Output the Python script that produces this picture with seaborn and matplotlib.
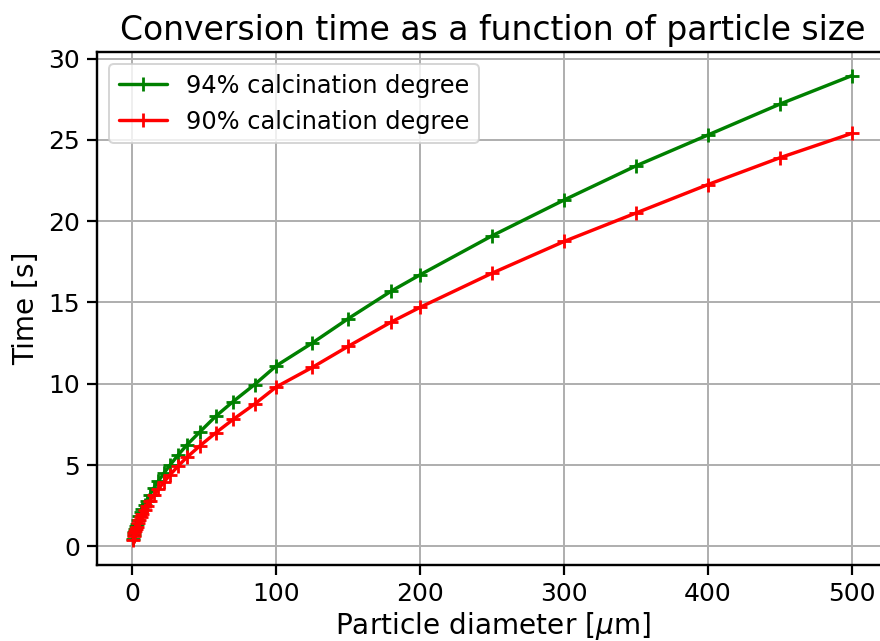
import matplotlib
matplotlib.use("Agg")
import matplotlib.pyplot as plt
import seaborn as sns
import pandas as pd

diameter = [0.5, 1, 1.5, 2, 2.5, 3, 4, 5, 6, 7, 8.5, 10, 12, 15, 18, 22, 26, 32, 38,
            47, 58, 70, 85, 100, 125, 150, 180, 200, 250, 300, 350, 400, 450, 500]
time_94 = [0.45, 0.71, 0.91, 1.08, 1.23, 1.37, 1.63, 1.86, 2.08, 2.27, 2.55, 2.81, 3.14,
           3.58, 3.99, 4.50, 4.97, 5.63, 6.24, 7.04, 8.0, 8.9, 9.95, 11.1, 12.5, 14.0,
           15.7, 16.7, 19.1, 21.3, 23.4, 25.3, 27.2, 28.95]
time_90 = [0.36, 0.62, 0.80, 0.95, 1.08, 1.20, 1.43, 1.63, 1.83, 2.0, 2.24, 2.47, 2.76,
           3.15, 3.5, 3.95, 4.37, 4.95, 5.48, 6.18, 6.98, 7.8, 8.75, 9.8, 11.0, 12.3,
           13.8, 14.7, 16.8, 18.75, 20.5, 22.25, 23.9, 25.4]
labels = ["94% calcination degree", "90% calcination degree"]
colors = ["green", "red"]

sns.set_style("ticks")
plt.rcParams['font.family'] = ['DejaVu Sans']
plt.rcParams['text.color'] = 'black'
plt.rcParams['axes.labelcolor'] = 'black'
plt.rcParams['xtick.color'] = 'black'
plt.rcParams['ytick.color'] = 'black'

fig = plt.figure(figsize=(880 / 144, 641 / 144), dpi=144)
ax = fig.add_axes([97 / 880, 1 - 565 / 641, 791 / 880, 513 / 641])

for series, lab, col in zip([time_94, time_90], labels, colors):
    df = pd.DataFrame({"d": diameter, "t": series})
    sns.lineplot(data=df, x="d", y="t", color=col, label=lab,
                 marker="+", markersize=7, markeredgewidth=1.4,
                 markeredgecolor=col, linewidth=1.7,
                 estimator=None, sort=True, ax=ax)

ax.grid(True, color="#b0b0b0", linewidth=1.0)
ax.set_axisbelow(True)
ax.set_xlabel(r"Particle diameter [$\mu$m]", fontsize=14, labelpad=2)
ax.set_ylabel("Time [s]", fontsize=14)
ax.set_title("Conversion time as a function of particle size", fontsize=16.5)
ax.tick_params(labelsize=12.5, length=5, width=1.1)
for s in ax.spines.values():
    s.set_visible(True)
    s.set_color("black")
    s.set_linewidth(1.2)
ax.spines["right"].set_visible(False)
ax.set_xticks([0, 100, 200, 300, 400, 500])
ax.set_yticks([0, 5, 10, 15, 20, 25, 30])
ax.set_xlim(-24.5, 525)
ax.set_ylim(-1.15, 30.4)
ax.legend(loc="upper left", fontsize=12, framealpha=0.8)

fig.savefig("out.png", dpi=144)
